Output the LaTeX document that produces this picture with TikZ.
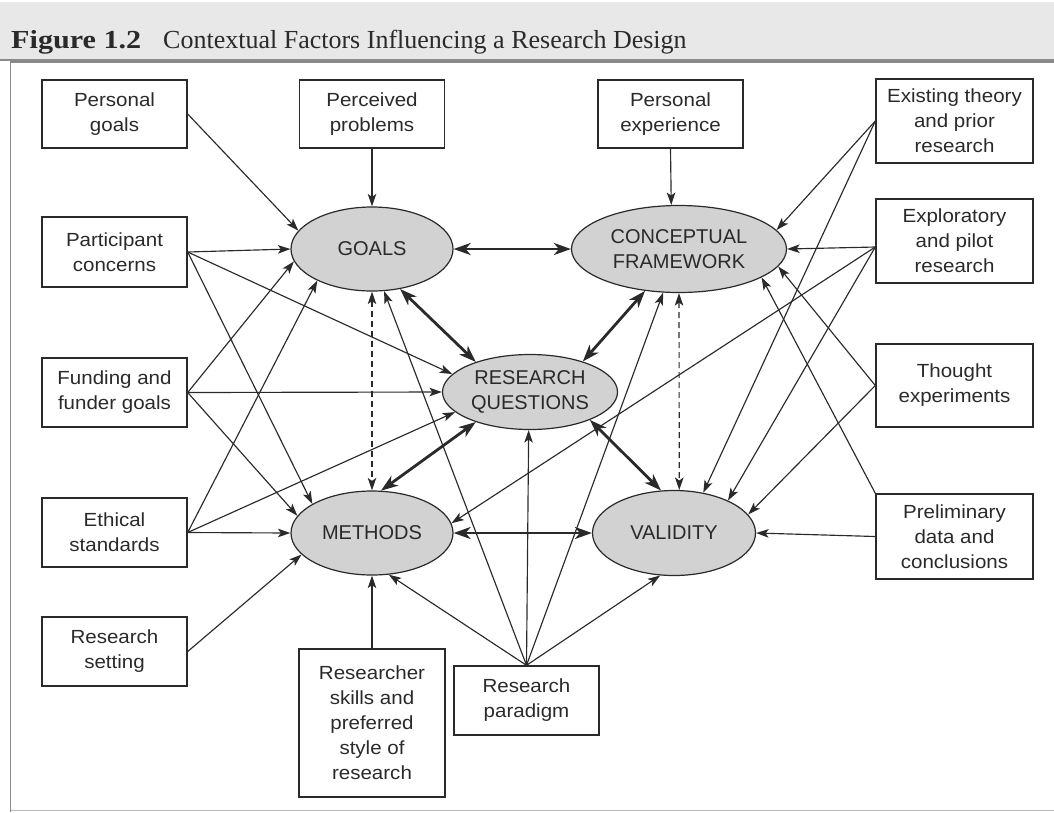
\documentclass[tikz,border=0pt]{standalone}
\usepackage{fontspec}
\setmainfont{Liberation Serif}
\newfontfamily\fignumfont{Liberation Serif}[FakeStretch=1.16]
\newfontfamily\boxfont{Liberation Sans}[FakeStretch=1.08]
\newfontfamily\ovalfont{Liberation Sans}
\usetikzlibrary{arrows.meta,shapes.geometric}
\definecolor{ink}{HTML}{2A2A2A}
\definecolor{ovalgray}{HTML}{D2D2D2}
\definecolor{titlegray}{HTML}{E8E8E8}
\definecolor{rulegray}{HTML}{8A8A8A}
\tikzset{
  thin tip/.tip={Stealth[length=12.5pt,width=8.5pt,inset=3pt]},
  thick tip/.tip={Stealth[length=17pt,width=12pt,inset=5pt]},
}
\begin{document}
\begin{tikzpicture}[x=1pt,y=-1pt,
  factor/.style={draw=ink, line width=1.4pt, fill=white, text=ink, align=center,
    font=\boxfont\fontsize{19}{25}\selectfont, inner sep=0pt},
  oval/.style={ellipse, draw=ink, line width=1.2pt, fill=ovalgray, text=ink, align=center,
    font=\ovalfont\fontsize{20}{25}\selectfont, inner sep=0pt},
  link/.style={draw=ink, line width=1.15pt, -thin tip},
  strong link/.style={draw=ink, line width=2.8pt, thick tip-thick tip},
  dashed link/.style={draw=ink, line width=1.15pt, dash pattern=on 6pt off 4pt, thin tip-thin tip},
]
\useasboundingbox (0,0) rectangle (1054,812);

% caption band and frame
\fill[titlegray] (0,2) rectangle (1054,59);
\draw[rulegray, line width=2pt] (0,59.5) -- (1054,59.5);
\draw[rulegray, line width=1.2pt] (10.5,812) -- (10.5,62) -- (1054,62);
\draw[rulegray!60, line width=1pt] (10.5,810) -- (1054,810);
\node[anchor=base west, inner sep=0pt, text=ink, font=\fignumfont\fontsize{26}{30}\selectfont\bfseries] (fignum) at (11,48) {Figure 1.2};
\node[anchor=base west, inner sep=0pt, text=ink, font=\fontsize{26}{30}\selectfont] (figtitle) at (163,48) {Contextual Factors Influencing a Research Design};

% the five components of the design
\node[oval, minimum width=162pt, minimum height=84pt] (G)  at (372,249) {GOALS};
\node[oval, minimum width=215pt, minimum height=87pt] (CF) at (679,249) {CONCEPTUAL\\FRAMEWORK};
\node[oval, minimum width=175pt, minimum height=75pt] (RQ) at (530,392) {RESEARCH\\QUESTIONS};
\node[oval, minimum width=162pt, minimum height=84pt] (M)  at (372,533) {METHODS};
\node[oval, minimum width=163pt, minimum height=85pt] (V)  at (674,533) {VALIDITY};

% contextual factors
\node[factor, minimum width=145pt, minimum height=68pt] (pg) at (114.5,114) {Personal\\goals};
\node[factor, minimum width=145pt, minimum height=68pt] (pp) at (372,114) {Perceived\\problems};
\node[factor, minimum width=145pt, minimum height=68pt] (pe) at (670.5,114) {Personal\\experience};
\node[factor, minimum width=157pt, minimum height=84pt] (et) at (954.5,121) {Existing theory\\and prior\\research};
\node[factor, minimum width=157pt, minimum height=84pt] (ep) at (954.5,241) {Exploratory\\and pilot\\research};
\node[factor, minimum width=145pt, minimum height=70pt] (pc) at (114.5,252) {Participant\\concerns};
\node[factor, minimum width=145pt, minimum height=69pt] (fg) at (114.5,392.5) {Funding and\\funder goals};
\node[factor, minimum width=157pt, minimum height=83pt] (te) at (954.5,385.5) {Thought\\experiments};
\node[factor, minimum width=145pt, minimum height=69pt] (es) at (114.5,532.5) {Ethical\\standards};
\node[factor, minimum width=157pt, minimum height=85pt] (pd) at (954.5,536.5) {Preliminary\\data and\\conclusions};
\node[factor, minimum width=145pt, minimum height=69pt] (rs) at (114.5,651.5) {Research\\setting};
\node[factor, minimum width=146pt, minimum height=148pt] (sk) at (372,723) {Researcher\\skills and\\preferred\\style of\\research};
\node[factor, minimum width=145pt, minimum height=69pt] (rp) at (526.5,700.5) {Research\\paradigm};

\coordinate (ep-out) at ([yshift=-6pt]ep.west);

% links between the components
\draw[strong link] (G.east) -- (CF.west);
\draw[strong link] (G.305) -- (RQ.151);
\draw[strong link] (CF.231) -- (RQ.30);
\draw[strong link] (RQ.209) -- (M.78);
\draw[strong link] (RQ.335) -- (V.107);
\draw[strong link] (M.east) -- (V.west);
\draw[dashed link] (G.south) -- (M.north);
\draw[dashed link] (CF.south) -- (V.83);

% influences on goals
\draw[link] (pg.east) -- (G.166);
\draw[link] (pp.south) -- (G.north);
\draw[link] (pc.east) -- (G.west);
\draw[link] (fg.east) -- (G.189);
\draw[link] (es.east) -- (G.210);
\draw[link] (rp.north) -- (G.286);

% influences on the conceptual framework
\draw[link] (pe.south) -- (CF.100);
\draw[link] (et.west) -- (CF.11);
\draw[link] (ep-out) -- (CF.east);
\draw[link] (te.west) -- (CF.350);
\draw[link] (pd.north west) -- (CF.341);
\draw[link] (rp.north) -- (CF.250);

% influences on the research questions
\draw[link] (pc.east) -- (RQ.167);
\draw[link] (fg.east) -- (RQ.west);
\draw[link] (es.east) -- (RQ.195);
\draw[link] (rp.north) -- (RQ.268);

% influences on methods
\draw[link] (pc.east) -- (M.154);
\draw[link] (fg.east) -- (M.167);
\draw[link] (es.east) -- (M.west);
\draw[link] (rs.east) -- (M.197);
\draw[link] (sk.north) -- (M.south);
\draw[link] (rp.north) -- (M.292);
\draw[link] (ep-out) -- (M.7.5);

% influences on validity
\draw[link] (et.west) -- (V.54);
\draw[link] (ep-out) -- (V.31);
\draw[link] (te.west) -- (V.14);
\draw[link] (pd.west) -- (V.east);
\draw[link] (rp.north) -- (V.252);
\end{tikzpicture}
\end{document}
